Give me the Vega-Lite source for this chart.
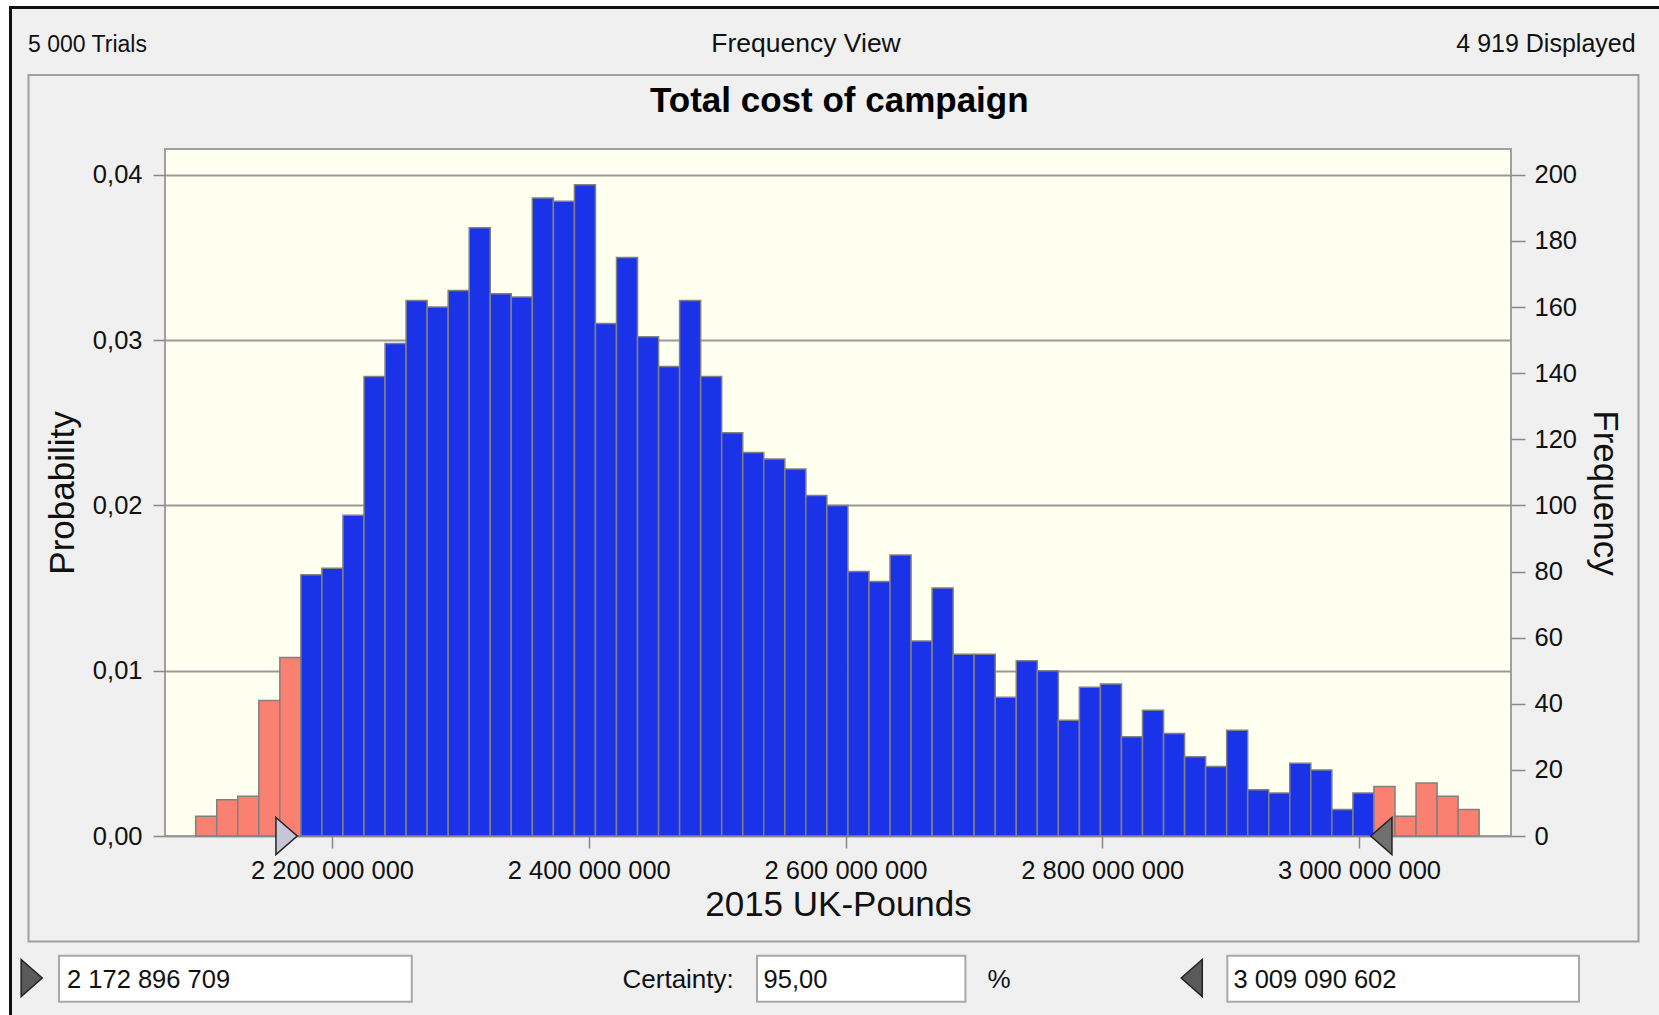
{
  "$schema": "https://vega.github.io/schema/vega-lite/v6.json",
  "width": 1346,
  "height": 687,
  "autosize": {"type": "none"},
  "padding": {"left": 165, "top": 149, "right": 148, "bottom": 179},
  "background": "#f0f0f0",
  "datasets": {
    "bins": [
      {"lo": 2093800000, "hi": 2110190000, "freq": 6, "region": "outside"},
      {"lo": 2110190000, "hi": 2126580000, "freq": 11, "region": "outside"},
      {"lo": 2126580000, "hi": 2142970000, "freq": 12, "region": "outside"},
      {"lo": 2142970000, "hi": 2159360000, "freq": 41, "region": "outside"},
      {"lo": 2159360000, "hi": 2175750000, "freq": 54, "region": "outside"},
      {"lo": 2175750000, "hi": 2192140000, "freq": 79, "region": "inside"},
      {"lo": 2192140000, "hi": 2208530000, "freq": 81, "region": "inside"},
      {"lo": 2208530000, "hi": 2224920000, "freq": 97, "region": "inside"},
      {"lo": 2224920000, "hi": 2241310000, "freq": 139, "region": "inside"},
      {"lo": 2241310000, "hi": 2257700000, "freq": 149, "region": "inside"},
      {"lo": 2257700000, "hi": 2274090000, "freq": 162, "region": "inside"},
      {"lo": 2274090000, "hi": 2290480000, "freq": 160, "region": "inside"},
      {"lo": 2290480000, "hi": 2306870000, "freq": 165, "region": "inside"},
      {"lo": 2306870000, "hi": 2323260000, "freq": 184, "region": "inside"},
      {"lo": 2323260000, "hi": 2339650000, "freq": 164, "region": "inside"},
      {"lo": 2339650000, "hi": 2356040000, "freq": 163, "region": "inside"},
      {"lo": 2356040000, "hi": 2372430000, "freq": 193, "region": "inside"},
      {"lo": 2372430000, "hi": 2388820000, "freq": 192, "region": "inside"},
      {"lo": 2388820000, "hi": 2405210000, "freq": 197, "region": "inside"},
      {"lo": 2405210000, "hi": 2421600000, "freq": 155, "region": "inside"},
      {"lo": 2421600000, "hi": 2437990000, "freq": 175, "region": "inside"},
      {"lo": 2437990000, "hi": 2454380000, "freq": 151, "region": "inside"},
      {"lo": 2454380000, "hi": 2470770000, "freq": 142, "region": "inside"},
      {"lo": 2470770000, "hi": 2487160000, "freq": 162, "region": "inside"},
      {"lo": 2487160000, "hi": 2503550000, "freq": 139, "region": "inside"},
      {"lo": 2503550000, "hi": 2519940000, "freq": 122, "region": "inside"},
      {"lo": 2519940000, "hi": 2536330000, "freq": 116, "region": "inside"},
      {"lo": 2536330000, "hi": 2552720000, "freq": 114, "region": "inside"},
      {"lo": 2552720000, "hi": 2569110000, "freq": 111, "region": "inside"},
      {"lo": 2569110000, "hi": 2585500000, "freq": 103, "region": "inside"},
      {"lo": 2585500000, "hi": 2601890000, "freq": 100, "region": "inside"},
      {"lo": 2601890000, "hi": 2618280000, "freq": 80, "region": "inside"},
      {"lo": 2618280000, "hi": 2634670000, "freq": 77, "region": "inside"},
      {"lo": 2634670000, "hi": 2651060000, "freq": 85, "region": "inside"},
      {"lo": 2651060000, "hi": 2667450000, "freq": 59, "region": "inside"},
      {"lo": 2667450000, "hi": 2683840000, "freq": 75, "region": "inside"},
      {"lo": 2683840000, "hi": 2700230000, "freq": 55, "region": "inside"},
      {"lo": 2700230000, "hi": 2716620000, "freq": 55, "region": "inside"},
      {"lo": 2716620000, "hi": 2733010000, "freq": 42, "region": "inside"},
      {"lo": 2733010000, "hi": 2749400000, "freq": 53, "region": "inside"},
      {"lo": 2749400000, "hi": 2765790000, "freq": 50, "region": "inside"},
      {"lo": 2765790000, "hi": 2782180000, "freq": 35, "region": "inside"},
      {"lo": 2782180000, "hi": 2798570000, "freq": 45, "region": "inside"},
      {"lo": 2798570000, "hi": 2814960000, "freq": 46, "region": "inside"},
      {"lo": 2814960000, "hi": 2831350000, "freq": 30, "region": "inside"},
      {"lo": 2831350000, "hi": 2847740000, "freq": 38, "region": "inside"},
      {"lo": 2847740000, "hi": 2864130000, "freq": 31, "region": "inside"},
      {"lo": 2864130000, "hi": 2880520000, "freq": 24, "region": "inside"},
      {"lo": 2880520000, "hi": 2896910000, "freq": 21, "region": "inside"},
      {"lo": 2896910000, "hi": 2913300000, "freq": 32, "region": "inside"},
      {"lo": 2913300000, "hi": 2929690000, "freq": 14, "region": "inside"},
      {"lo": 2929690000, "hi": 2946080000, "freq": 13, "region": "inside"},
      {"lo": 2946080000, "hi": 2962470000, "freq": 22, "region": "inside"},
      {"lo": 2962470000, "hi": 2978860000, "freq": 20, "region": "inside"},
      {"lo": 2978860000, "hi": 2995250000, "freq": 8, "region": "inside"},
      {"lo": 2995250000, "hi": 3011640000, "freq": 13, "region": "inside"},
      {"lo": 3011640000, "hi": 3028030000, "freq": 15, "region": "outside"},
      {"lo": 3028030000, "hi": 3044420000, "freq": 6, "region": "outside"},
      {"lo": 3044420000, "hi": 3060810000, "freq": 16, "region": "outside"},
      {"lo": 3060810000, "hi": 3077200000, "freq": 12, "region": "outside"},
      {"lo": 3077200000, "hi": 3093590000, "freq": 8, "region": "outside"}
    ],
    "bounds": [
      {"bound": "lower", "value": 2172896709},
      {"bound": "upper", "value": 3009090602}
    ]
  },
  "config": {
    "view": {"fill": "#fffff0", "stroke": "#a0a0a0", "strokeWidth": 2},
    "axis": {
      "labelFont": "Liberation Sans", "labelFontSize": 25.5, "labelColor": "#111111",
      "titleFont": "Liberation Sans", "titleFontSize": 35, "titleFontWeight": "normal", "titleColor": "#111111",
      "tickColor": "#888888", "tickWidth": 1.5, "domain": false,
      "labelOverlap": false, "labelFlush": false, "labelBound": false
    },
    "text": {"font": "Liberation Sans", "fontSize": 26, "color": "#111111", "baseline": "alphabetic"}
  },
  "resolve": {"axis": {"y": "independent"}},
  "layer": [
    {
      "data": {"values": [{}]},
      "mark": {"type": "rect", "fill": "#ffffff", "fillOpacity": 0, "stroke": "#ffffff", "strokeWidth": 14},
      "encoding": {
        "x": {"datum": 1942930000}, "x2": {"datum": 3400000000},
        "y": {"datum": 253.17, "axis": null}, "y2": {"datum": -80}
      }
    },
    {
      "data": {"values": [{}]},
      "mark": {"type": "rect", "fill": "#ffffff", "fillOpacity": 0, "stroke": "#111111", "strokeWidth": 3},
      "encoding": {
        "x": {"datum": 1949550000}, "x2": {"datum": 3400000000},
        "y": {"datum": 250.6, "axis": null}, "y2": {"datum": -80}
      }
    },
    {
      "data": {"values": [{}]},
      "mark": {"type": "rect", "fill": "#ffffff", "fillOpacity": 0, "stroke": "#a0a0a0", "strokeWidth": 2},
      "encoding": {
        "x": {"datum": 1963570000}, "x2": {"datum": 3217720000},
        "y": {"datum": 230.18, "axis": null}, "y2": {"datum": -31.91}
      }
    },
    {
      "data": {"name": "bins"},
      "mark": {"type": "rect", "stroke": "#808080", "strokeWidth": 1.5},
      "encoding": {
        "x": {
          "field": "lo", "type": "quantitative",
          "scale": {"domain": [2069900000, 3118400000], "nice": false, "zero": false},
          "axis": {
            "values": [2200000000, 2400000000, 2600000000, 2800000000, 3000000000],
            "labelExpr": "replace(format(datum.value, ',d'), regexp(',', 'g'), ' ')",
            "grid": false, "tickSize": 12, "labelPadding": 10,
            "title": "2015 UK-Pounds", "titlePadding": 4
          }
        },
        "x2": {"field": "hi"},
        "y": {
          "field": "freq", "type": "quantitative",
          "scale": {"domain": [0, 207.8], "nice": false},
          "axis": {
            "orient": "left",
            "values": [0, 50, 100, 150, 200],
            "labelExpr": "replace(format(datum.value / 5000, '.2f'), '.', ',')",
            "grid": true, "gridColor": "#999999", "gridWidth": 2,
            "tickSize": 12, "labelPadding": 11,
            "title": "Probability", "titlePadding": 12
          }
        },
        "y2": {"datum": 0},
        "color": {
          "field": "region", "type": "nominal",
          "scale": {"domain": ["inside", "outside"], "range": ["#1b33e8", "#fa8072"]},
          "legend": null
        }
      }
    },
    {
      "data": {"name": "bounds"},
      "mark": {"type": "point", "filled": true, "size": 1369, "opacity": 1, "stroke": "#222222", "strokeWidth": 1.5},
      "encoding": {
        "x": {"field": "value", "type": "quantitative"},
        "y": {
          "datum": 0,
          "axis": {
            "orient": "right",
            "values": [0, 20, 40, 60, 80, 100, 120, 140, 160, 180, 200],
            "grid": false, "tickSize": 14, "labelPadding": 9,
            "title": "Frequency", "titlePadding": 10
          }
        },
        "shape": {
          "field": "bound", "type": "nominal",
          "scale": {"domain": ["lower", "upper"], "range": ["M-1.15,-1L0,0L-1.15,1Z", "M1.15,-1L0,0L1.15,1Z"]},
          "legend": null
        },
        "fill": {
          "field": "bound", "type": "nominal",
          "scale": {"domain": ["lower", "upper"], "range": ["#c6c6d8", "#707070"]},
          "legend": null
        }
      }
    },
    {
      "data": {"values": [{}]},
      "mark": {"type": "text", "text": "Total cost of campaign", "align": "center", "fontSize": 35, "fontWeight": "bold", "color": "#000000"},
      "encoding": {"x": {"datum": 2595170000}, "y": {"datum": 219.08, "axis": null}}
    },
    {
      "data": {"values": [{}]},
      "mark": {"type": "text", "text": "5 000 Trials", "align": "left", "fontSize": 23},
      "encoding": {"x": {"datum": 1963180000}, "y": {"datum": 237.23, "axis": null}}
    },
    {
      "data": {"values": [{}]},
      "mark": {"type": "text", "text": "Frequency View", "align": "center", "fontSize": 26.5},
      "encoding": {"x": {"datum": 2569220000}, "y": {"datum": 237.23, "axis": null}}
    },
    {
      "data": {"values": [{}]},
      "mark": {"type": "text", "text": "4 919 Displayed", "align": "right", "fontSize": 25},
      "encoding": {"x": {"datum": 3215460000}, "y": {"datum": 237.23, "axis": null}}
    },
    {
      "data": {"values": [{}]},
      "mark": {"type": "rect", "fill": "#ffffff", "stroke": "#a8a8a8", "strokeWidth": 2},
      "encoding": {"x": {"datum": 1987330000}, "x2": {"datum": 2262150000}, "y": {"datum": -36.21, "axis": null}, "y2": {"datum": -50.12}}
    },
    {
      "data": {"values": [{}]},
      "mark": {"type": "rect", "fill": "#ffffff", "stroke": "#a8a8a8", "strokeWidth": 2},
      "encoding": {"x": {"datum": 2531050000}, "x2": {"datum": 2693390000}, "y": {"datum": -36.21, "axis": null}, "y2": {"datum": -50.12}}
    },
    {
      "data": {"values": [{}]},
      "mark": {"type": "rect", "fill": "#ffffff", "stroke": "#a8a8a8", "strokeWidth": 2},
      "encoding": {"x": {"datum": 2897400000}, "x2": {"datum": 3171370000}, "y": {"datum": -36.21, "axis": null}, "y2": {"datum": -50.12}}
    },
    {
      "data": {"values": [{}]},
      "mark": {"type": "text", "text": "2 172 896 709", "align": "left", "fontSize": 25.5},
      "encoding": {"x": {"datum": 1993560000}, "y": {"datum": -46.07, "axis": null}}
    },
    {
      "data": {"values": [{}]},
      "mark": {"type": "text", "text": "Certainty:", "align": "left", "fontSize": 26},
      "encoding": {"x": {"datum": 2426290000}, "y": {"datum": -46.07, "axis": null}}
    },
    {
      "data": {"values": [{}]},
      "mark": {"type": "text", "text": "95,00", "align": "left", "fontSize": 25.5},
      "encoding": {"x": {"datum": 2536200000}, "y": {"datum": -46.07, "axis": null}}
    },
    {
      "data": {"values": [{}]},
      "mark": {"type": "text", "text": "%", "align": "left", "fontSize": 26},
      "encoding": {"x": {"datum": 2710610000}, "y": {"datum": -46.07, "axis": null}}
    },
    {
      "data": {"values": [{}]},
      "mark": {"type": "text", "text": "3 009 090 602", "align": "left", "fontSize": 25.5},
      "encoding": {"x": {"datum": 2902160000}, "y": {"datum": -46.07, "axis": null}}
    },
    {
      "data": {"values": [{}]},
      "mark": {"type": "point", "filled": true, "opacity": 1, "size": 1369, "shape": "M-0.57,-1L0.57,0L-0.57,1Z", "fill": "#5a5a5a", "stroke": "#222222", "strokeWidth": 1.5},
      "encoding": {"x": {"datum": 1966060000}, "y": {"datum": -42.95, "axis": null}}
    },
    {
      "data": {"values": [{}]},
      "mark": {"type": "point", "filled": true, "opacity": 1, "size": 1369, "shape": "M0.57,-1L-0.57,0L0.57,1Z", "fill": "#5a5a5a", "stroke": "#222222", "strokeWidth": 1.5},
      "encoding": {"x": {"datum": 2869700000}, "y": {"datum": -42.95, "axis": null}}
    }
  ]
}
